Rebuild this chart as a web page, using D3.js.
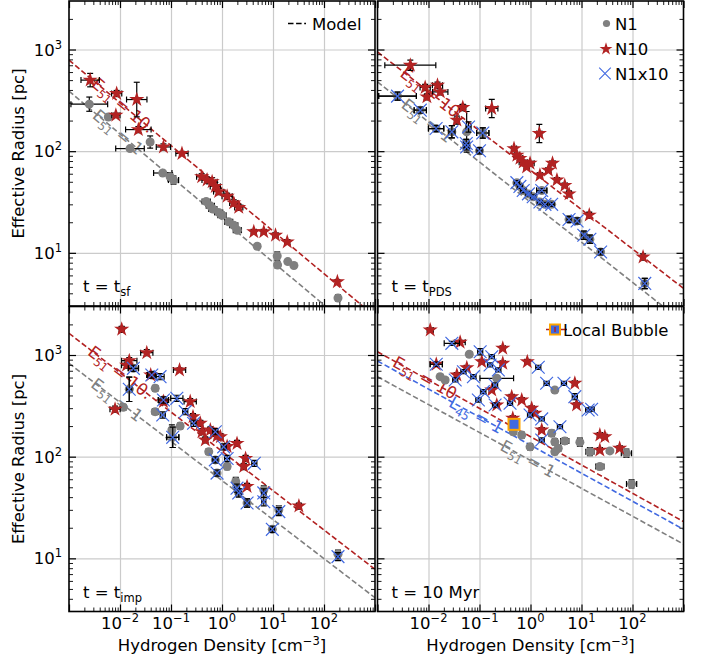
<!DOCTYPE html>
<html><head><meta charset="utf-8">
<script src="https://cdn.jsdelivr.net/npm/d3@7"></script>
<style>body{margin:0;background:#fff} svg{display:block} text{font-family:"DejaVu Sans",sans-serif}</style>
</head><body><svg id="c" width="707" height="662"></svg>
<script>
// ---------------- data ----------------
// points: [n (cm^-3), R (pc), xerr (dex), yerr (dex)]
const p1_N1 = [[0.0025,290,0.36,0.07],[0.0059,217,0.05,0.02],[0.0157,106,0.28,0.02],[0.039,123,0.05,0.06],[0.069,61,0.18,0.02],[0.096,56,0.05,0.04],[0.112,52,0.1,0.04],[0.49,32,0.08,0.02],[0.59,29,0.08,0.02],[0.66,27,0.08,0.02],[0.86,25,0.08,0.02],[1.0,23.4,0.08,0.03],[1.35,20.2,0.08,0.02],[1.7,18.7,0.08,0.02],[2.0,16.7,0.08,0.02],[4.9,11.6,0.05,0.02],[12.1,9.3,0.03,0.04],[12.3,7.6,0.03,0.03],[19.5,8.2,0.03,0.02],[25.7,7.5,0.03,0.02],[188,3.6,0.02,0.03]];
const p1_N10 = [[0.0026,500,0.18,0.066],[0.0086,369,0.1,0.03],[0.0213,322,0.2,0.17],[0.0083,226,0.08,0.02],[0.0229,163,0.25,0.03],[0.071,110,0.14,0.03],[0.164,95,0.12,0.02],[0.40,56,0.1,0.03],[0.51,52,0.1,0.03],[0.64,50,0.1,0.04],[0.74,45,0.1,0.04],[0.86,40,0.1,0.03],[1.26,36,0.1,0.03],[1.7,31,0.08,0.03],[2.13,28,0.08,0.03],[4.2,16.1,0.05,0.02],[6.6,16.1,0.05,0.02],[11.2,14.9,0.05,0.02],[19,12.8,0.05,0.02],[183,5.2,0.03,0.02]];
const p1_N1x10 = [];

const p2_N10 = [[0.0044,701,0.5,0.05],[0.0086,423,0.1,0.03],[0.015,446,0.1,0.03],[0.017,383,0.15,0.03],[0.0093,342,0.05,0.03],[0.047,269,0.06,0.03],[0.036,202,0.05,0.04],[0.174,263,0.12,0.09],[1.49,149,0.05,0.09],[0.475,106,0.05,0.02],[0.54,91,0.05,0.02],[0.62,85,0.05,0.02],[0.72,78,0.08,0.02],[0.98,76,0.08,0.02],[0.84,70,0.05,0.02],[1.53,58,0.05,0.02],[2.24,65,0.05,0.02],[2.7,76,0.05,0.02],[3.3,52,0.05,0.02],[4.7,46,0.05,0.02],[5.7,38,0.05,0.03],[14.2,23.5,0.04,0.03],[161,9.1,0.03,0.03]];
const p2_N1 = [[0.00247,348,0.37,0.04],[0.0069,253,0.12,0.03],[0.0141,167,0.15,0.03],[0.0287,155,0.06,0.06],[0.056,155,0.03,0.2],[0.055,119,0.05,0.04],[0.056,110,0.05,0.03],[0.1,101,0.05,0.03],[0.116,151,0.12,0.05],[0.54,49,0.05,0.02],[0.62,45,0.05,0.02],[0.72,41,0.05,0.02],[0.91,38,0.05,0.02],[1.13,35.6,0.05,0.02],[1.66,41,0.1,0.02],[1.53,31.6,0.05,0.02],[1.92,30,0.05,0.02],[2.6,30,0.05,0.02],[5.7,21.3,0.04,0.03],[8.2,20.6,0.04,0.03],[11.1,14.9,0.04,0.04],[14.6,13.6,0.04,0.04],[23.7,10.2,0.04,0.03],[174,5.0,0.03,0.05]];
const p2_N1x10 = [[0.00247,348,0.37,0.04],[0.0069,253,0.12,0.03],[0.0141,167,0.15,0.03],[0.0287,155,0.06,0.06],[0.061,173,0.05,0.05],[0.055,119,0.05,0.04],[0.056,110,0.05,0.03],[0.1,101,0.05,0.03],[0.116,151,0.12,0.05],[0.54,49,0.05,0.02],[0.62,45,0.05,0.02],[0.72,41,0.05,0.02],[0.91,38,0.05,0.02],[1.13,35.6,0.05,0.02],[1.66,41,0.1,0.02],[1.53,31.6,0.05,0.02],[1.92,30,0.05,0.02],[2.6,30,0.05,0.02],[5.7,21.3,0.04,0.03],[8.2,20.6,0.04,0.03],[11.1,14.9,0.04,0.04],[14.6,13.6,0.04,0.04],[23.7,10.2,0.04,0.03],[174,5.0,0.03,0.05]];

const p3_N1 = [[0.0116,306,0.05,0.03],[0.049,470,0.05,0.03],[0.049,277,0.06,0.03],[0.104,183,0.05,0.05],[0.151,200,0.05,0.03],[0.55,112,0.05,0.03],[1.26,80,0.05,0.03],[1.86,57,0.05,0.04],[6.6,47,0.04,0.04],[0.0152,460,0.05,0.12],[0.0183,740,0.1,0.03],[0.042,636,0.08,0.03],[0.108,155,0.12,0.1],[0.74,93,0.05,0.03],[0.80,69,0.04,0.03],[2.13,44,0.05,0.04],[3.1,35,0.04,0.04],[13,30,0.04,0.04],[9.7,19.3,0.04,0.03],[188,11,0.03,0.04],[0.071,361,0.1,0.03]];
const p3_N10 = [[0.0108,1790,0.05,0.03],[0.0335,1054,0.12,0.03],[0.0152,880,0.15,0.03],[0.0135,795,0.1,0.03],[0.040,636,0.08,0.03],[0.147,713,0.12,0.02],[0.0080,293,0.1,0.03],[0.071,348,0.08,0.03],[0.238,348,0.12,0.03],[0.27,247,0.05,0.03],[0.375,213,0.05,0.03],[0.405,176,0.05,0.03],[0.47,146,0.05,0.03],[0.59,183,0.05,0.03],[0.685,170,0.05,0.03],[0.80,160,0.05,0.03],[0.93,157,0.05,0.03],[1.26,126,0.05,0.03],[1.97,135,0.05,0.03],[2.9,96,0.05,0.03],[2.67,80,0.05,0.03],[3.1,51,0.05,0.03],[32.2,32.7,0.05,0.03]];
const p3_N1x10 = [[0.0183,740,0.1,0.03],[0.0152,460,0.05,0.12],[0.042,636,0.08,0.03],[0.061,612,0.08,0.03],[0.071,361,0.1,0.03],[0.130,375,0.12,0.03],[0.069,257,0.05,0.03],[0.108,155,0.12,0.1],[0.19,277,0.05,0.03],[0.277,213,0.05,0.03],[0.74,176,0.05,0.03],[1.08,125,0.05,0.03],[1.26,96,0.05,0.03],[0.74,93,0.05,0.03],[0.80,69,0.04,0.03],[4.3,86,0.05,0.03],[1.97,49,0.05,0.04],[2.13,44,0.05,0.04],[3.1,35,0.04,0.04],[6.6,36,0.04,0.04],[6.6,44,0.04,0.04],[13,28.8,0.04,0.04],[9.7,19.3,0.04,0.03],[188,10.4,0.03,0.04]];

const p4_N1 = [[0.0169,612,0.05,0.02],[0.0212,568,0.05,0.02],[0.063,1016,0.05,0.02],[0.218,590,0.33,0.02],[3.0,453,0.05,0.02],[0.46,176,0.05,0.03],[0.673,163,0.05,0.03],[0.98,125,0.05,0.03],[2.6,170,0.05,0.03],[3.0,140,0.05,0.03],[3.0,112,0.05,0.03],[3.5,121,0.05,0.03],[4.7,143,0.08,0.03],[9.3,139,0.05,0.04],[14.6,112,0.08,0.04],[22.9,80,0.08,0.03],[36,114,0.05,0.02],[76,108,0.1,0.04],[96,54,0.1,0.04]];
const p4_N10 = [[0.0108,1760,0.06,0.02],[0.0417,1333,0.1,0.02],[0.286,1164,0.05,0.02],[0.0142,811,0.12,0.02],[0.286,828,0.05,0.02],[0.036,636,0.05,0.02],[0.0564,750,0.05,0.02],[0.111,859,0.05,0.02],[0.865,859,0.05,0.02],[0.174,453,0.05,0.02],[0.218,322,0.05,0.02],[0.428,389,0.05,0.02],[0.673,361,0.05,0.02],[1.055,299,0.05,0.02],[1.22,267,0.05,0.02],[7.4,527,0.05,0.02],[8.0,322,0.05,0.02],[1.66,183,0.05,0.02],[0.449,239,0.05,0.02],[22.9,163,0.05,0.02],[28.7,157,0.05,0.02],[22.9,116,0.05,0.02],[56,121,0.05,0.02]];
const p4_N1x10 = [[0.0287,1303,0.15,0.02],[0.0142,811,0.12,0.02],[0.103,1077,0.05,0.03],[0.174,962,0.05,0.02],[0.161,798,0.05,0.02],[0.234,713,0.05,0.02],[0.0484,685,0.05,0.02],[0.076,612,0.05,0.02],[0.0334,568,0.05,0.02],[0.119,436,0.05,0.02],[0.202,507,0.05,0.02],[0.095,361,0.05,0.02],[0.202,322,0.05,0.02],[0.397,335,0.05,0.02],[1.42,757,0.05,0.02],[2.07,527,0.05,0.02],[4.53,527,0.05,0.02],[7.4,389,0.05,0.03],[13.5,288,0.05,0.02],[15.8,293,0.05,0.02],[0.98,257,0.05,0.02],[1.66,235,0.05,0.02],[3.78,197,0.05,0.02],[1.66,146,0.05,0.02]];
const localBubble = [[0.475,208,0.03,0.02]];

// model lines: [R at n=1e-3, R at n=1e3]
const p1_E10 = [785, 2.37], p1_E1 = [389, 1.17];
const p2_E10 = [946, 4.47], p2_E1 = [480, 2.07];
const p3_E10 = [1633, 7.8], p3_E1 = [828, 4.1];
const p4_E10 = [1076, 23.0], p4_L1 = [873, 19.3], p4_E1 = [612, 13.8];

const xDomain = [1e-3, 1e3];
const yDomain = [3, 3000];
const xMajor = [1e-3,1e-2,1e-1,1,10,100,1000];
const xLabelTicks = [1e-2,1e-1,1,10,100];
const xLabelExp = ["\u22122","\u22121","0","1","2"];
const yMajor = [10,100,1000];
const yLabelExp = ["1","2","3"];
const panelTimes = [["t = t","sf"],["t = t","PDS"],["t = t","imp"],["t = 10 Myr",""]];

// ---------------- drawing ----------------
const svg = d3.select('#c');
const RED='#b22222', GRAY='#808080', BLUE='#4169e1';
const cols=[[69,375],[377.5,683.5]];
const rows=[[1,306],[306.5,611.5]];
const FS=16.5;

function minorTicks(lo,hi){const out=[];for(let e=Math.floor(Math.log10(lo));e<=Math.ceil(Math.log10(hi));e++){for(let k=2;k<=9;k++){const v=k*Math.pow(10,e);if(v>lo*1.0001&&v<hi*0.9999)out.push(v);}}return out;}
const xMinor=minorTicks(1e-3,1e3), yMinor=minorTicks(3,3000);

const panels=[
 {c:0,r:0,n1:p1_N1,n10:p1_N10,n1x10:p1_N1x10,models:[[p1_E1,GRAY,'E','51',' = 1',0.0091],[p1_E10,RED,'E','51',' = 10.',0.0115]]},
 {c:1,r:0,n1:p2_N1,n10:p2_N10,n1x10:p2_N1x10,models:[[p2_E1,GRAY,'E','51',' = 1',0.0094],[p2_E10,RED,'E','51',' = 10.',0.0118]]},
 {c:0,r:1,n1:p3_N1,n10:p3_N10,n1x10:p3_N1x10,models:[[p3_E1,GRAY,'E','51',' = 1',0.0087],[p3_E10,RED,'E','51',' = 10.',0.0100]]},
 {c:1,r:1,n1:p4_N1,n10:p4_N10,n1x10:p4_N1x10,models:[[p4_E1,GRAY,'E','51',' = 1',0.89],[p4_L1,BLUE,'L','45',' = 1',0.086],[p4_E10,RED,'E','51',' = 10',0.0085]]}
];

const star = d3.symbol().type(d3.symbolStar).size(8*8/0.8908130915292852)();
const xs = 6.4;
const xPath = `M${-xs},${-xs}L${xs},${xs}M${-xs},${xs}L${xs},${-xs}`;

function errbars(g,data,x,y){
  const cap=3;
  data.forEach(d=>{
    const [n,R,ex,ey]=d; const px=x(n), py=y(R);
    if(ex>0){const a=x(n*Math.pow(10,-ex)), b=x(n*Math.pow(10,ex));
      g.append('line').attr('x1',a).attr('x2',b).attr('y1',py).attr('y2',py);
      g.append('line').attr('x1',a).attr('x2',a).attr('y1',py-cap).attr('y2',py+cap);
      g.append('line').attr('x1',b).attr('x2',b).attr('y1',py-cap).attr('y2',py+cap);}
    if(ey>0){const a=y(R*Math.pow(10,-ey)), b=y(R*Math.pow(10,ey));
      g.append('line').attr('x1',px).attr('x2',px).attr('y1',a).attr('y2',b);
      g.append('line').attr('x1',px-cap).attr('x2',px+cap).attr('y1',a).attr('y2',a);
      g.append('line').attr('x1',px-cap).attr('x2',px+cap).attr('y1',b).attr('y2',b);}
  });
}

panels.forEach((p,i)=>{
  const [x0,x1]=cols[p.c],[y0,y1]=rows[p.r];
  const x=d3.scaleLog().domain(xDomain).range([x0,x1]);
  const y=d3.scaleLog().domain(yDomain).range([y1,y0]);
  const clipId='clip'+i;
  svg.append('clipPath').attr('id',clipId).append('rect').attr('x',x0).attr('y',y0).attr('width',x1-x0).attr('height',y1-y0);
  const g=svg.append('g');
  // grid via axes
  const gx=g.append('g').attr('transform',`translate(0,${y1})`).call(d3.axisBottom(x).tickValues(xMajor.filter(v=>v>1e-3&&v<1e3)).tickSize(-(y1-y0)).tickFormat(''));
  const gy=g.append('g').attr('transform',`translate(${x0},0)`).call(d3.axisLeft(y).tickValues(yMajor).tickSize(-(x1-x0)).tickFormat(''));
  [gx,gy].forEach(a=>{a.select('.domain').remove();a.selectAll('line').attr('stroke','#cbcbcb').attr('stroke-width',1.2);});

  const inner=g.append('g').attr('clip-path',`url(#${clipId})`);
  // model lines
  p.models.forEach(m=>{
    const [ends,col]=m;
    inner.append('path').attr('d',d3.line().x(d=>x(d[0])).y(d=>y(d[1]))([[1e-3,ends[0]],[1e3,ends[1]]]))
      .attr('stroke',col).attr('stroke-width',1.6).attr('fill','none').attr('stroke-dasharray','5.5,2.6');
  });
  // line labels
  p.models.forEach(m=>{
    const [ends,col,sym,sub,rest,nl]=m;
    const slope=Math.log10(ends[1]/ends[0])/6;
    const Rl=ends[0]*Math.pow(10,slope*(Math.log10(nl)+3));
    const px=x(nl), py=y(Rl);
    const ang=Math.atan2(y(ends[1])-y(ends[0]), x(1e3)-x(1e-3))*180/Math.PI;
    const t=inner.append('text').attr('transform',`translate(${px},${py}) rotate(${ang})`)
      .attr('text-anchor','middle').attr('y',5.5).attr('font-size',FS).attr('fill',col);
    t.append('tspan').text(sym);
    t.append('tspan').attr('font-size',11.5).attr('dy',4).text(sub);
    t.append('tspan').attr('dy',-4).text(rest);
  });
  // points
  const eg=inner.append('g').attr('stroke','black').attr('stroke-width',1.2);
  errbars(eg,p.n1,x,y);
  inner.append('g').selectAll('circle').data(p.n1).join('circle').attr('cx',d=>x(d[0])).attr('cy',d=>y(d[1])).attr('r',4.5).attr('fill',GRAY);
  const eg2=inner.append('g').attr('stroke','black').attr('stroke-width',1.2);
  errbars(eg2,p.n10,x,y);
  inner.append('g').selectAll('path').data(p.n10).join('path').attr('d',star).attr('transform',d=>`translate(${x(d[0])},${y(d[1])})`).attr('fill',RED);
  const eg3=inner.append('g').attr('stroke','black').attr('stroke-width',1.2);
  errbars(eg3,p.n1x10,x,y);
  inner.append('g').selectAll('path').data(p.n1x10).join('path').attr('d',xPath).attr('transform',d=>`translate(${x(d[0])},${y(d[1])})`).attr('stroke',BLUE).attr('stroke-width',1.2).attr('fill','none');
  if(i===3){
    const lg=inner.append('g').attr('stroke',RED).attr('stroke-width',1.5);
    errbars(lg,localBubble,x,y);
    inner.append('g').selectAll('rect').data(localBubble).join('rect').attr('x',d=>x(d[0])-5.5).attr('y',d=>y(d[1])-5.5).attr('width',11).attr('height',11)
      .attr('fill',BLUE).attr('stroke','#ffa500').attr('stroke-width',2);
  }
  // ticks (inward, all sides)
  const tk=g.append('g');
  const mk=(axis,tr,vals,len)=>{const a=tk.append('g').attr('transform',tr).call(axis.tickValues(vals).tickSize(-len).tickFormat(''));a.select('.domain').remove();a.selectAll('line').attr('stroke','black').attr('stroke-width',len>5?1.2:0.9);};
  mk(d3.axisBottom(x),`translate(0,${y1})`,xMajor,7); mk(d3.axisBottom(x),`translate(0,${y1})`,xMinor,4);
  mk(d3.axisTop(x),`translate(0,${y0})`,xMajor,7); mk(d3.axisTop(x),`translate(0,${y0})`,xMinor,4);
  mk(d3.axisLeft(y),`translate(${x0},0)`,yMajor,7); mk(d3.axisLeft(y),`translate(${x0},0)`,yMinor,4);
  mk(d3.axisRight(y),`translate(${x1},0)`,yMajor,7); mk(d3.axisRight(y),`translate(${x1},0)`,yMinor,4);
  // frame
  g.append('rect').attr('x',x0).attr('y',y0).attr('width',x1-x0).attr('height',y1-y0).attr('fill','none').attr('stroke','black').attr('stroke-width',1.6);
  // tick labels
  if(p.c===0){
    yMajor.forEach((v,k)=>{const t=g.append('text').attr('x',x0-7).attr('y',y(v)+6).attr('text-anchor','end').attr('font-size',FS);
      t.append('tspan').text('10'); t.append('tspan').attr('font-size',11.5).attr('dy',-7).text(yLabelExp[k]);});
    g.append('text').attr('transform',`translate(24,${(y0+y1)/2}) rotate(-90)`).attr('text-anchor','middle').attr('font-size',FS).text('Effective Radius [pc]');
  }
  if(p.r===1){
    xLabelTicks.forEach((v,k)=>{const t=g.append('text').attr('x',x(v)).attr('y',629).attr('text-anchor','middle').attr('font-size',FS);
      t.append('tspan').text('10'); t.append('tspan').attr('font-size',11.5).attr('dy',-7).text(xLabelExp[k]);});
    const xl=g.append('text').attr('x',(x0+x1)/2).attr('y',651).attr('text-anchor','middle').attr('font-size',FS);
    xl.append('tspan').text('Hydrogen Density [cm'); xl.append('tspan').attr('font-size',11.5).attr('dy',-6).text('\u22123'); xl.append('tspan').attr('dy',6).text(']');
  }
  // panel time annotation
  const tt=g.append('text').attr('x',x0+14).attr('y',y1-14).attr('font-size',FS);
  tt.append('tspan').text(panelTimes[i][0]);
  if(panelTimes[i][1]) tt.append('tspan').attr('font-size',11.5).attr('dy',4).text(panelTimes[i][1]);
});

// legends
const L=svg.append('g');
L.append('line').attr('x1',288).attr('x2',306).attr('y1',23.5).attr('y2',23.5).attr('stroke','black').attr('stroke-width',1.6).attr('stroke-dasharray','5.5,2.6');
L.append('text').attr('x',312).attr('y',29.5).attr('font-size',FS).text('Model');
L.append('circle').attr('cx',606.5).attr('cy',23.5).attr('r',3.6).attr('fill',GRAY);
L.append('text').attr('x',615).attr('y',29.5).attr('font-size',FS).text('N1');
L.append('path').attr('d',d3.symbol().type(d3.symbolStar).size(6.8*6.8/0.8908130915292852)()).attr('transform','translate(606,49)').attr('fill',RED);
L.append('text').attr('x',615).attr('y',54.5).attr('font-size',FS).text('N10');
L.append('path').attr('d',`M-5.8,-5.8L5.8,5.8M-5.8,5.8L5.8,-5.8`).attr('transform','translate(605,73.5)').attr('stroke',BLUE).attr('stroke-width',1.1).attr('fill','none');
L.append('text').attr('x',615).attr('y',79.5).attr('font-size',FS).text('N1x10');
L.append('line').attr('x1',546).attr('x2',567).attr('y1',329.5).attr('y2',329.5).attr('stroke',RED).attr('stroke-width',1.5);
L.append('rect').attr('x',550).attr('y',324.5).attr('width',10).attr('height',10).attr('fill',BLUE).attr('stroke','#ffa500').attr('stroke-width',2);
L.append('line').attr('x1',555).attr('x2',555).attr('y1',327).attr('y2',332).attr('stroke',RED).attr('stroke-width',1.5);
L.append('text').attr('x',563).attr('y',335.5).attr('font-size',FS).text('Local Bubble');
</script></body></html>
